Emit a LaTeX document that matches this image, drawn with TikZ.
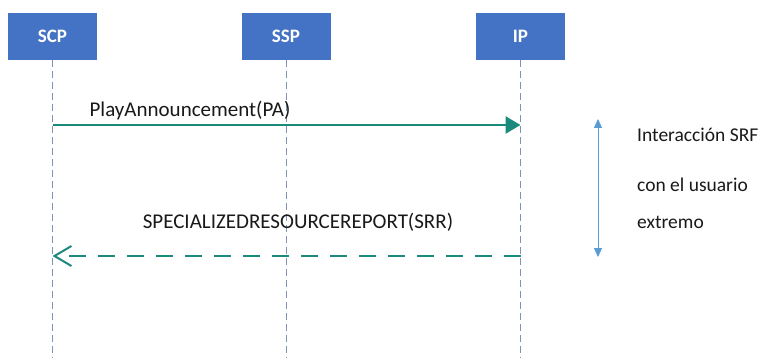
\documentclass[tikz,border=0pt]{standalone}
\usepackage{fontspec}
\setmainfont{Carlito}
\usepackage{xcolor}
\usepackage{tikz}
\usetikzlibrary{arrows.meta}
\definecolor{boxblue}{HTML}{4472C4}
\definecolor{msgteal}{HTML}{1B8A7C}
\definecolor{lifegray}{HTML}{7F93B8}
\definecolor{spanblue}{HTML}{5B9BD5}

\begin{document}
\begin{tikzpicture}[x=1pt, y=-1pt,
        entity/.style={fill=boxblue, text=white, font=\bfseries\fontsize{19}{22}\selectfont,
            minimum width=89pt, minimum height=47pt, inner sep=0pt},
        lifeline/.style={lifegray, dash pattern=on 7pt off 4pt, line width=0.9pt},
        msg/.style={msgteal, line width=2.6pt},
        lbl/.style={font=\fontsize{21}{24}\selectfont, text=black!90, inner sep=0pt},
        note/.style={font=\fontsize{19.5}{22}\selectfont, text=black!90, anchor=west, inner sep=0pt}]
        \useasboundingbox (0,0) rectangle (759,358);
        \fill [white] (0,0) rectangle (759,358);
        % participants and lifelines
        \foreach \name/\txt/\x in {scp/SCP/52.5, ssp/SSP/286, ip/IP/520.5}{
                \node [entity] (\name) at (\x, 36.5) {\txt};
                \coordinate (\name-end) at (\x, 358);
                \draw [lifeline] (\name.south) -- (\name-end);
            }
        % messages
        \coordinate (pa-from) at (scp |- 0,125);
        \coordinate (pa-to) at (ip |- 0,125);
        \draw [msg, -{Triangle[length=15pt, width=17pt]}] (pa-from) -- (pa-to);
        \node [lbl] (pa-label) at (190, 111) {PlayAnnouncement(PA)};
        \coordinate (srr-from) at (ip |- 0,256);
        \coordinate (srr-to) at (scp |- 0,256);
        \draw [msg, dash pattern=on 17pt off 12pt, -{Straight Barb[length=17pt, width=20pt, line width=2pt]}] (srr-from) -- (srr-to);
        \node [lbl] (srr-label) at (298, 222) {SPECIALIZEDRESOURCEREPORT(SRR)};
        % interaction span
        \coordinate (span-top) at (598, 119);
        \coordinate (span-bot) at (598, 257);
        \draw [spanblue, line width=1pt, {Triangle[length=9pt, width=8pt]}-{Triangle[length=9pt, width=8pt]}] (span-top) -- (span-bot);
        \node [note] (note-a) at (637, 135) {Interacción SRF};
        \node [note] (note-b) at (637, 185) {con el usuario};
        \node [note] (note-c) at (637, 222) {extremo};
    \end{tikzpicture}
\end{document}
